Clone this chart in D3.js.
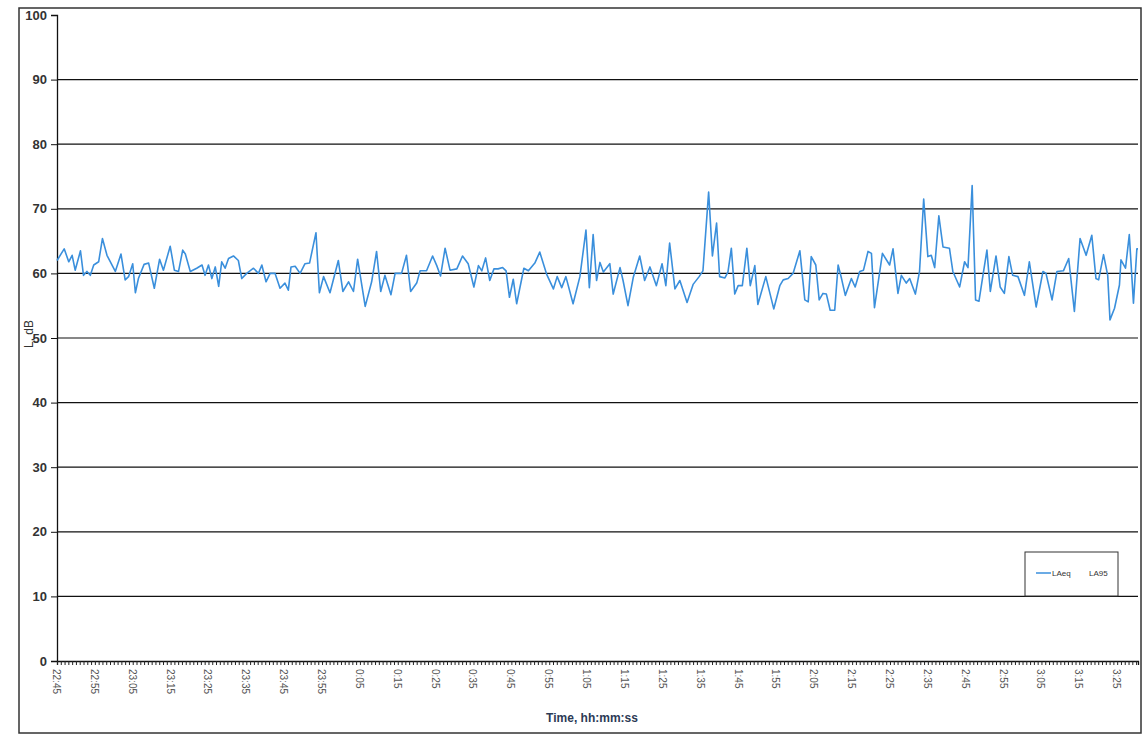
<!DOCTYPE html>
<html><head><meta charset="utf-8">
<script src="https://cdn.jsdelivr.net/npm/d3@7"></script>
<style>body{margin:0;background:#fff;}svg{display:block;}</style>
</head><body>
<svg id="chart" width="1146" height="737"></svg>
<script>
// sample times, minutes after 22:45
const minutes = [0,1.9,3.1,4.0,4.8,6.2,7.0,7.9,8.8,9.7,11.0,12.0,13.2,15.4,16.9,18.0,18.9,20.0,20.7,21.5,23.0,24.2,25.7,27.1,28.1,29.9,31.0,32.1,33.2,33.9,35.2,36.9,38.3,39.1,40.0,40.9,41.8,42.7,43.5,44.4,45.3,46.6,47.9,48.8,50.1,51.9,53.2,54.1,55.2,56.3,57.6,58.9,60.2,61.1,61.8,62.9,64.2,65.5,66.7,68.4,69.3,70.4,72.1,74.3,75.5,77.0,78.3,79.4,81.4,83.1,84.4,85.5,86.6,88.2,89.3,91.0,92.3,93.4,95.0,
95.9,97.6,99.2,100.3,101.3,102.5,103.8,105.6,107.1,108.6,110.1,111.3,112.2,113.2,114.3,115.4,116.5,117.7,118.6,119.5,120.5,121.4,123.3,124.5,126.2,127.5,129.3,131.1,132.1,133.3,134.4,136.3,138.1,139.7,140.6,141.6,142.5,143.4,144.3,146.0,146.9,148.7,149.5,150.8,152.2,153.9,155.2,156.6,158.3,159.8,160.8,161.8,163.2,164.5,166.4,168.0,169.6,170.6,172.1,173.1,174.2,175.0,176.4,177.2,178.1,179.0,179.9,181.0,182.2,183.1,184.3,185.1,187.2,189.3,190.9,
191.8,193.1,194.4,196.2,197.5,198.4,199.2,200.4,201.3,202.3,203.2,204.2,205.4,206.3,207.2,208.2,209.8,210.8,212.0,213.0,214.2,215.1,215.9,218.0,219.9,220.8,222.1,223.0,224.3,225.2,226.7,227.8,228.9,230.0,230.9,231.8,232.9,234.0,235.7,236.6,238.4,239.7,240.6,241.7,242.6,243.5,244.5,245.6,246.5,248.0,249.1,250.2,251.4,252.4,253.8,255.5,256.8,258.6,260.4,261.2,262.8,264.1,265.8,267.2,268.7,270.2,271.8,273.3,274.4,275.1,276.4,277.5,278.1,279.3,280.6,281.0,282.2,283.2,284.3,285.2,285.5];
const laeq = [62,63.8,61.8,62.8,60.5,63.5,59.7,60.3,59.7,61.3,61.8,65.4,62.8,60.3,63,59,59.5,61.5,57,59.2,61.4,61.6,57.7,62.2,60.5,64.2,60.5,60.3,63.6,63,60.3,60.8,61.3,59.7,61.3,59.2,61,58,61.8,60.8,62.3,62.7,62,59.2,60,60.8,60,61.3,58.7,60,60,57.7,58.5,57.4,61,61.1,60,61.5,61.6,66.3,57,59.5,57,62,57.2,58.7,57.2,62.2,54.9,58.7,63.4,57.2,59.7,56.7,60,60,62.8,57.2,58.5,
60.4,60.4,62.7,61.2,59.6,63.9,60.5,60.7,62.7,61.5,57.9,61.2,60.4,62.4,58.9,60.7,60.7,60.9,60.4,56.3,59.1,55.3,60.8,60.4,61.6,63.3,59.9,57.6,59.5,57.8,59.5,55.3,59.5,66.7,57.8,66.0,58.9,61.7,60.2,61.5,56.8,60.9,58.9,55.0,59.4,62.7,58.9,61.0,58.1,61.5,58.1,64.7,57.6,58.9,55.5,58.3,59.5,60.4,72.6,62.7,67.8,59.5,59.3,60.2,63.9,56.8,58.1,58.1,63.9,58.1,61.2,55.2,59.5,54.5,58.1,
59.0,59.2,60,63.5,55.9,55.6,62.6,61.3,55.9,56.9,56.8,54.3,54.3,61.3,59.2,56.6,59.2,57.9,60.3,60.5,63.4,63.1,54.7,63.1,61.3,63.8,56.9,59.7,58.5,59.2,56.8,60.3,71.5,62.6,62.8,60.9,68.9,64.1,63.9,60.3,57.9,61.8,60.9,73.6,55.9,55.7,59.5,63.6,57.2,62.7,57.9,56.9,62.6,59.7,59.5,56.6,61.8,54.8,60.3,60,55.9,60.3,60.4,62.3,54.1,65.4,62.8,65.9,59.2,59.0,62.9,59.7,52.8,54.6,58.2,62.1,60.8,66.0,55.4,63.8,63.8,63.8];
const tickMinutes = [0,10,20,30,40,50,60,70,80,90,100,110,120,130,140,150,160,170,180,190,200,210,220,230,240,250,260,270,280];
const tickLabels = ["22:45","22:55","23:05","23:15","23:25","23:35","23:45","23:55","0:05","0:15","0:25","0:35","0:45","0:55","1:05","1:15","1:25","1:35","1:45","1:55","2:05","2:15","2:25","2:35","2:45","2:55","3:05","3:15","3:25"];
const yTicks = [0,10,20,30,40,50,60,70,80,90,100];
const legendLabels = ["LAeq","LA95"];

const svg = d3.select("#chart");
const L = 57, R = 1138, T = 15, B = 661;
const x = d3.scaleLinear().domain([0, 285.5]).range([L, R]);
const y = d3.scaleLinear().domain([0, 100]).range([B, T]);

// outer frame
svg.append("rect").attr("x", 19).attr("y", 8).attr("width", 1122).attr("height", 725)
  .attr("fill", "none").attr("stroke", "#333").attr("stroke-width", 1.5);

// gridlines
svg.append("g").selectAll("line").data(yTicks.filter(d => d > 0 && d < 100)).join("line")
  .attr("x1", L).attr("x2", R).attr("y1", d => y(d)).attr("y2", d => y(d))
  .attr("stroke", "#111").attr("stroke-width", 1.2);

// y axis
const yAxis = svg.append("g").attr("transform", `translate(${L},0)`)
  .call(d3.axisLeft(y).tickValues(yTicks).tickSize(6).tickPadding(4));
yAxis.select(".domain").attr("stroke", "#111").attr("stroke-width", 1.3);
yAxis.selectAll(".tick line").attr("stroke", "#111");
yAxis.selectAll("text").attr("font-family", "Liberation Sans, Arial, sans-serif")
  .attr("font-size", 13).attr("font-weight", "bold").attr("fill", "#333");

// x axis minor ticks every minute
const minorTicks = d3.range(0, 286, 1);
const xAxis = svg.append("g").attr("transform", `translate(0,${B})`)
  .call(d3.axisBottom(x).tickValues(minorTicks).tickSize(4).tickFormat(""));
xAxis.select(".domain").attr("stroke", "#111").attr("stroke-width", 1.3);
xAxis.selectAll(".tick line").attr("stroke", "#222");

// x labels
svg.append("g").selectAll("text").data(tickMinutes).join("text")
  .attr("transform", d => `translate(${x(d) - 4},${B + 8}) rotate(90)`)
  .attr("text-anchor", "start")
  .attr("font-family", "Liberation Sans, Arial, sans-serif")
  .attr("font-size", 10).attr("fill", "#555")
  .text((d, i) => tickLabels[i]);

// series line
const pts = minutes.map((m, i) => [m, laeq[i]]);
svg.append("path").datum(pts)
  .attr("fill", "none").attr("stroke", "#3a8fdc").attr("stroke-width", 1.6)
  .attr("stroke-linejoin", "round")
  .attr("d", d3.line().x(d => x(d[0])).y(d => y(d[1])));

// axis titles
svg.append("text").attr("transform", `translate(33,${y(50) - 4}) rotate(-90)`)
  .attr("text-anchor", "middle").attr("font-family", "Liberation Sans, Arial, sans-serif")
  .attr("font-size", 12).attr("fill", "#333").text("L, dB");
svg.append("text").attr("x", 592).attr("y", 722).attr("text-anchor", "middle")
  .attr("font-family", "Liberation Sans, Arial, sans-serif").attr("font-weight", "bold")
  .attr("font-size", 12).attr("fill", "#2c3a55").text("Time, hh:mm:ss");

// legend
const lg = svg.append("g").attr("transform", "translate(1025,552)");
lg.append("rect").attr("width", 93).attr("height", 44).attr("fill", "#fff")
  .attr("stroke", "#333").attr("stroke-width", 1);
lg.append("line").attr("x1", 11).attr("x2", 26).attr("y1", 21).attr("y2", 21)
  .attr("stroke", "#3a8fdc").attr("stroke-width", 1.5);
lg.append("text").attr("x", 27).attr("y", 24).attr("font-family", "Liberation Sans, Arial, sans-serif")
  .attr("font-size", 8).attr("fill", "#333").text(legendLabels[0]);
lg.append("text").attr("x", 64).attr("y", 24).attr("font-family", "Liberation Sans, Arial, sans-serif")
  .attr("font-size", 8).attr("fill", "#333").text(legendLabels[1]);
</script>
</body></html>
